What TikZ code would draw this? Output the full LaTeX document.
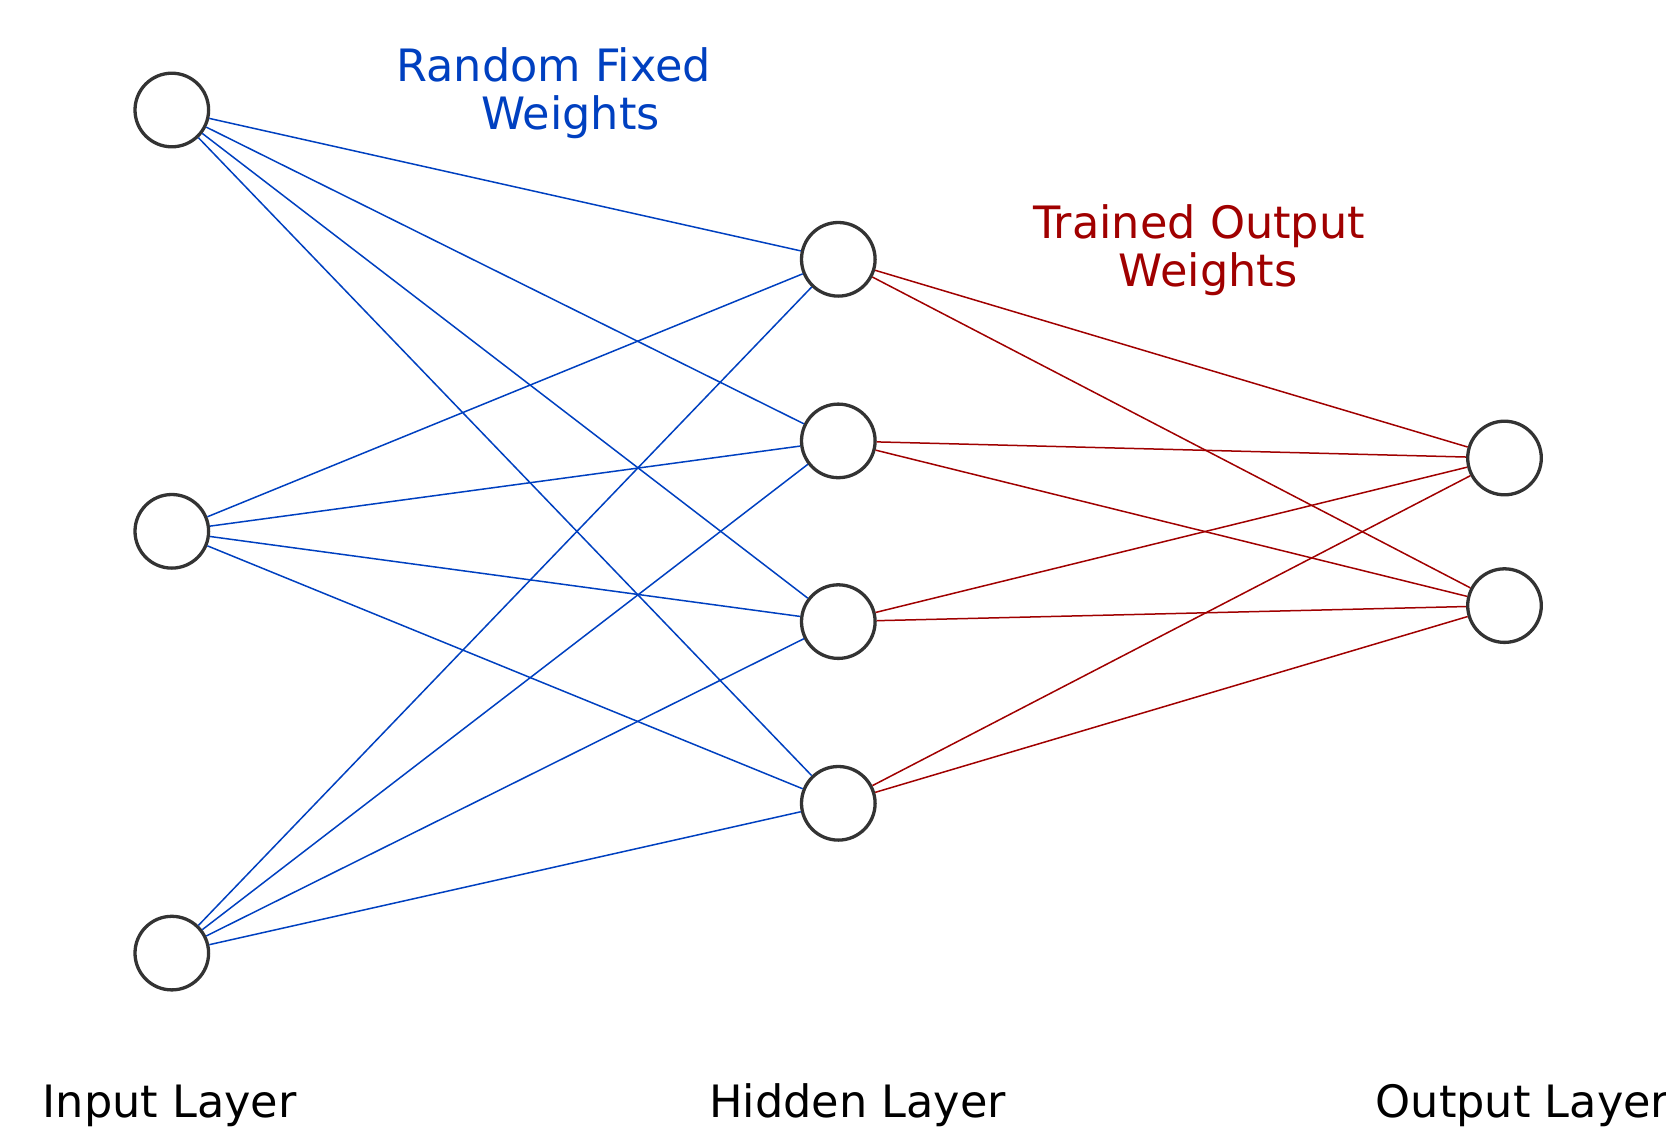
\documentclass[tikz,border=0pt]{standalone}
\usepackage{fontspec}
\setmainfont{DejaVu Sans}
\definecolor{wblue}{RGB}{0,64,192}
\definecolor{wred}{RGB}{160,0,0}
\definecolor{ndgray}{RGB}{51,51,51}
\begin{document}
\begin{tikzpicture}[x=1pt,y=-1pt,
  neuron/.style={circle,draw=ndgray,line width=3.3pt,fill=white,minimum size=73.6pt,inner sep=0pt},
  bedge/.style={draw=wblue,line width=1.5pt},
  redge/.style={draw=wred,line width=1.5pt},
  lbl/.style={font=\fontsize{44.6}{48}\selectfont,inner sep=0pt,anchor=base west},
  ttl/.style={font=\fontsize{44.6}{48}\selectfont,align=center,inner sep=0pt}]
\useasboundingbox (0,0) rectangle (1666,1133);
\node[neuron] (i1) at (171.8,110) {};
\node[neuron] (i2) at (171.8,531.3) {};
\node[neuron] (i3) at (171.8,953.1) {};
\node[neuron] (h1) at (838.3,259.3) {};
\node[neuron] (h2) at (838.3,440.9) {};
\node[neuron] (h3) at (838.3,621.6) {};
\node[neuron] (h4) at (838.3,803.3) {};
\node[neuron] (o1) at (1504.5,458) {};
\node[neuron] (o2) at (1504.5,605.6) {};
\foreach \a in {i1,i2,i3}{\foreach \b in {h1,h2,h3,h4}{\draw[bedge] (\a) -- (\b);}}
\foreach \a in {h1,h2,h3,h4}{\foreach \b in {o1,o2}{\draw[redge] (\a) -- (\b);}}
\node[ttl,text=wblue] (t1) at (553.6,93.5) {Random Fixed\\\hspace*{34pt}Weights};
\node[ttl,text=wred] (t2) at (1199,250) {Trained Output\\\hspace*{18pt}Weights};
\node[lbl] (l1) at (42.5,1117) {Input Layer};
\node[lbl] (l2) at (709,1117) {Hidden Layer};
\node[lbl] (l3) at (1375.6,1117) {Output Layer};
\end{tikzpicture}
\end{document}
